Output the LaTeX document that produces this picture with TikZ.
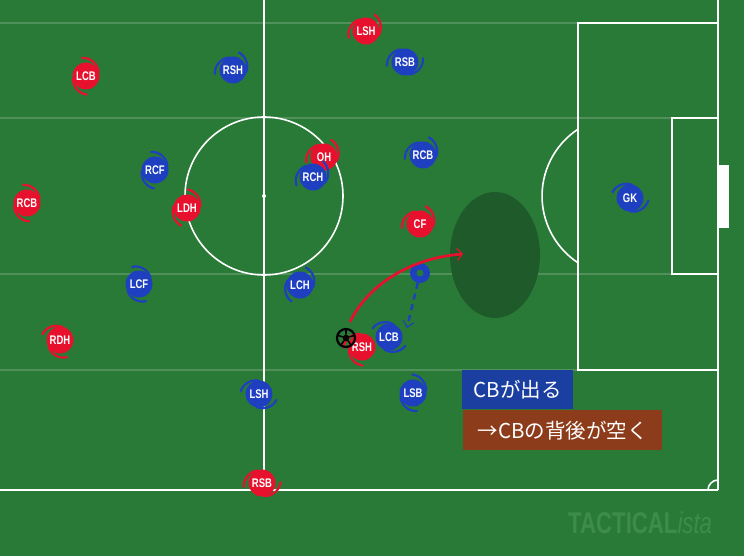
\documentclass[tikz,border=0pt]{standalone}
\usepackage{fontspec}
\usepackage{graphicx}
\setmainfont{Liberation Sans}
\newfontfamily\jpfont{Noto Sans CJK JP}
\usetikzlibrary{arrows.meta}
\definecolor{pitch}{HTML}{2A7A37}
\definecolor{zone}{HTML}{1F5A2A}
\definecolor{tred}{HTML}{E8112D}
\definecolor{tblue}{HTML}{1E3FBF}
\definecolor{boxblue}{HTML}{1B3FA0}
\definecolor{boxbrown}{HTML}{8D3C1B}
\definecolor{wmark}{HTML}{3E8C4A}
\tikzset{
  pline/.style={white, line width=1.6pt},
  lane/.style={white, opacity=0.18, line width=1.6pt},
  pl/.style={circle, minimum size=27pt, inner sep=0pt, text=white},
  swirl/.style={line width=2.2pt, line cap=round},
  labbox/.style={anchor=north west, inner sep=0pt, text=white, font=\jpfont\fontsize{20.5}{22}\selectfont},
}
\newcommand{\plab}[1]{\fontsize{12.5}{12.5}\selectfont\bfseries\scalebox{0.76}[1]{#1}}
\newcommand{\pla}[7]{%
  \node[pl, fill=#4] (#1) at (#2,-#3) {\plab{#5}};
  \foreach \aa in {#6,#7} {
    \draw[#4, swirl] ([shift={(\aa-40:13.3)}]#1.center) .. controls ([shift={(\aa-12:17)}]#1.center) and ([shift={(\aa+18:19)}]#1.center) .. ([shift={(\aa+42:18.5)}]#1.center);
  }
}
\begin{document}
\begin{tikzpicture}[x=1pt, y=1pt]
\useasboundingbox (0,0) rectangle (744,-556);
\fill[pitch] (0,0) rectangle (744,-556);
% lanes
\foreach \yy in {23,118,274,370} \draw[lane] (0,-\yy) -- (718,-\yy);
% zone
\fill[zone] (495,-255) ellipse[x radius=45, y radius=63];
% pitch lines
\draw[pline] (264,0) -- (264,-490);
\draw[pline] (0,-490) -- (718,-490);
\draw[pline] (718,0) -- (718,-490);
\draw[pline] (718,-23) -- (578,-23) -- (578,-370) -- (718,-370);
\draw[pline] (718,-118) -- (672,-118) -- (672,-274) -- (718,-274);
\fill[white] (718,-165) rectangle (729,-228);
\draw[pline] (264,-196) circle[radius=79];
\fill[white] (264,-196) circle[radius=2];
\draw[pline] (578,-129.2) arc[start angle=123.4, delta angle=113.2, radius=80];
\draw[pline] (708,-490) arc[start angle=180, delta angle=-90, radius=10];
% red team
\pla{rLSH}{366}{31}{tred}{LSH}{160}{20}
\pla{rLCB}{86}{76}{tred}{LCB}{60}{230}
\pla{rOH}{324}{157}{tred}{OH}{155}{25}
\pla{rRCB}{27}{203}{tred}{RCB}{60}{235}
\pla{rLDH}{187}{208}{tred}{LDH}{45}{210}
\pla{rCF}{420}{224}{tred}{CF}{150}{30}
\pla{rRDH}{60}{340}{tred}{RDH}{120}{250}
\pla{rRSH}{362}{347}{tred}{RSH}{140}{230}
\pla{rRSB}{262}{483}{tred}{RSB}{150}{320}
% blue team
\pla{bRSH}{233}{70}{tblue}{RSH}{150}{30}
\pla{bRSB}{405}{62}{tblue}{RSB}{150}{330}
\pla{bRCB}{423}{155}{tblue}{RCB}{150}{30}
\pla{bRCF}{155}{170}{tblue}{RCF}{60}{225}
\pla{bRCH}{313}{177}{tblue}{RCH}{165}{15}
\pla{bGK}{630}{198}{tblue}{GK}{120}{310}
\pla{bLCF}{139}{284}{tblue}{LCF}{70}{250}
\pla{bLCH}{300}{285}{tblue}{LCH}{30}{200}
\pla{bLCB}{389}{337}{tblue}{LCB}{110}{290}
\pla{bLSH}{259}{394}{tblue}{LSH}{130}{300}
\pla{bLSB}{413}{393}{tblue}{LSB}{50}{240}
% ring (CB moving out)
\node[circle, fill=tblue, minimum size=20pt, inner sep=0pt] (ring) at (420,-273) {};
\fill[pitch] (ring.center) circle[radius=3.5];
\coordinate (dashend) at (407,-328);
\draw[tblue, line width=2.4pt, dash pattern=on 6pt off 5pt, -{Straight Barb[length=6pt, width=11pt, line width=1pt]}] (ring) -- (dashend);
% ball
\node[circle, minimum size=18pt, inner sep=0pt, draw=black, line width=2.2pt] (ball) at (346,-338) {};
\fill[black] (ball.center) +(90:3.8) -- +(162:3.8) -- +(234:3.8) -- +(306:3.8) -- +(18:3.8) -- cycle;
\foreach \a in {90,162,234,306,18} {
  \draw[black, line width=1.5pt] (ball.center) ++(\a:3.6) -- ++(\a:5);
}
% red run arrow
\coordinate (runend) at (463,-254);
\draw[tred, line width=2.7pt, -{Straight Barb[length=5pt, width=12pt, line width=1.2pt]}] ([shift={(4,6)}]ball.north) .. controls (368,-285) and (410,-258) .. (runend);
% labels
\node[labbox, fill=boxblue, minimum width=111pt, minimum height=39pt] (lab1) at (462,-370) {CBが出る};
\node[labbox, fill=boxbrown, minimum width=199pt, minimum height=40pt] (lab2) at (463,-410) {→CBの背後が空く};
% watermark
\node[anchor=base west, inner sep=0pt, text=wmark] (wm) at (568,-533) {\fontsize{30}{30}\selectfont\scalebox{0.74}[1]{\bfseries TACTICAL\mdseries\itshape ista}};
\end{tikzpicture}
\end{document}
